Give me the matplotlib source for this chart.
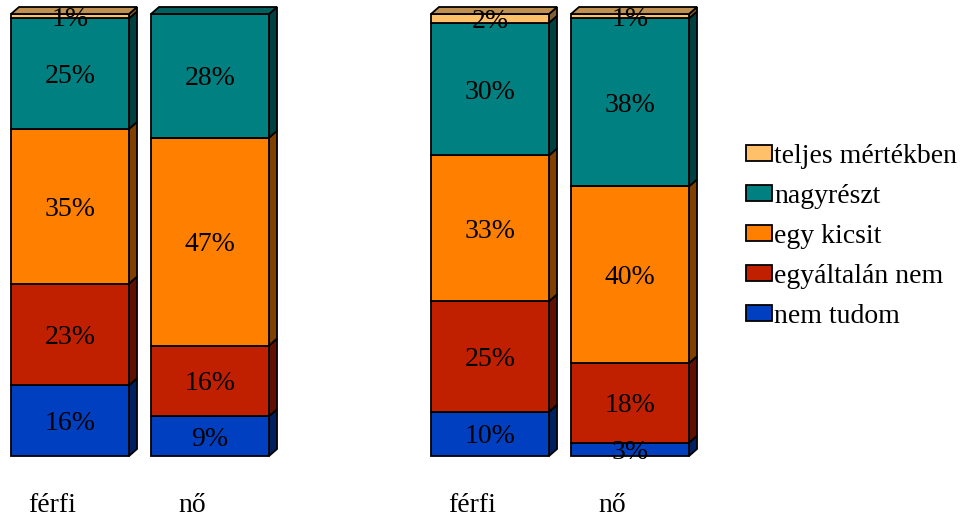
# stacked 3d-look bars, two groups of férfi / nő

import matplotlib.pyplot as plt
from matplotlib.patches import Polygon, Patch
import numpy as np

# categories and positions (two groups)
cats = ['férfi', 'nő', 'férfi', 'nő']
xpos = [0, 1, 3, 4]

# series values in percent, bottom to top
series = ['nem tudom', 'egyáltalán nem', 'egy kicsit', 'nagyrészt', 'teljes mértékben']
nem_tudom = [16, 9, 10, 3]
egyaltalan_nem = [23, 16, 25, 18]
egy_kicsit = [35, 47, 33, 40]
nagyreszt = [25, 28, 30, 38]
teljes = [1, 0, 2, 1]

colors = ['#0040C0', '#C02000', '#FF8000', '#008080', '#FFC06A']

plt.rcParams['font.family'] = ['Liberation Serif', 'DejaVu Serif']

fig = plt.figure(figsize=(9.64, 5.19), dpi=100)
ax = fig.add_axes([0, 63 / 519, 700 / 964, 442 / 519])
ax.set_xlim(-0.5, 4.5)
ax.set_ylim(0, 100)
ax.axis('off')

width = 0.843
dx = 8 / 140   # depth offset in x units
dy = 7 / 4.42  # depth offset in percent units
lw = 1.3

data = [nem_tudom, egyaltalan_nem, egy_kicsit, nagyreszt, teljes]


def darker(c, f):
    r, g, b = [int(c[i:i + 2], 16) / 255 for i in (1, 3, 5)]
    return (r * f, g * f, b * f)


bottom = np.zeros(len(xpos))
topcol = [None] * len(xpos)
for vals, col in zip(data, colors):
    vals = np.array(vals, dtype=float)
    for i, x in enumerate(xpos):
        if vals[i] <= 0:
            continue
        xr = x + width / 2
        y0, y1 = bottom[i], bottom[i] + vals[i]
        side = Polygon([(xr, y0), (xr + dx, y0 + dy), (xr + dx, y1 + dy), (xr, y1)],
                       closed=True, facecolor=darker(col, 0.5), edgecolor='black',
                       linewidth=lw, clip_on=False)
        ax.add_patch(side)
        topcol[i] = col
    ax.bar(xpos, vals, width, bottom=bottom, color=col, edgecolor='black',
           linewidth=lw, clip_on=False, zorder=2)
    for i, x in enumerate(xpos):
        if vals[i] > 0:
            ax.text(x, bottom[i] + vals[i] / 2, f'{int(vals[i])}%', ha='center',
                    va='center_baseline', fontsize=20, zorder=3)
    bottom = bottom + vals

# top faces
for i, x in enumerate(xpos):
    xl, xr = x - width / 2, x + width / 2
    yt = bottom[i]
    top = Polygon([(xl, yt), (xl + dx, yt + dy), (xr + dx, yt + dy), (xr, yt)],
                  closed=True, facecolor=darker(topcol[i], 0.75), edgecolor='black',
                  linewidth=lw, clip_on=False, zorder=2)
    ax.add_patch(top)

# category labels, sitting a bit left of the bar centres
for x, c in zip(xpos, cats):
    ax.text(x - 0.13, -50 / 442 * 100, c, ha='center', va='center', fontsize=20)

handles = [Patch(facecolor=c, edgecolor='black', linewidth=lw, label=s)
           for s, c in zip(series[::-1], colors[::-1])]
fig.legend(handles=handles, loc='center left', bbox_to_anchor=(746 / 964, 0.545),
           frameon=False, fontsize=20, handlelength=0.93, handleheight=0.54,
           handletextpad=0.08, labelspacing=0.54, borderpad=0, borderaxespad=0)

fig.savefig('out.png', dpi=100)
